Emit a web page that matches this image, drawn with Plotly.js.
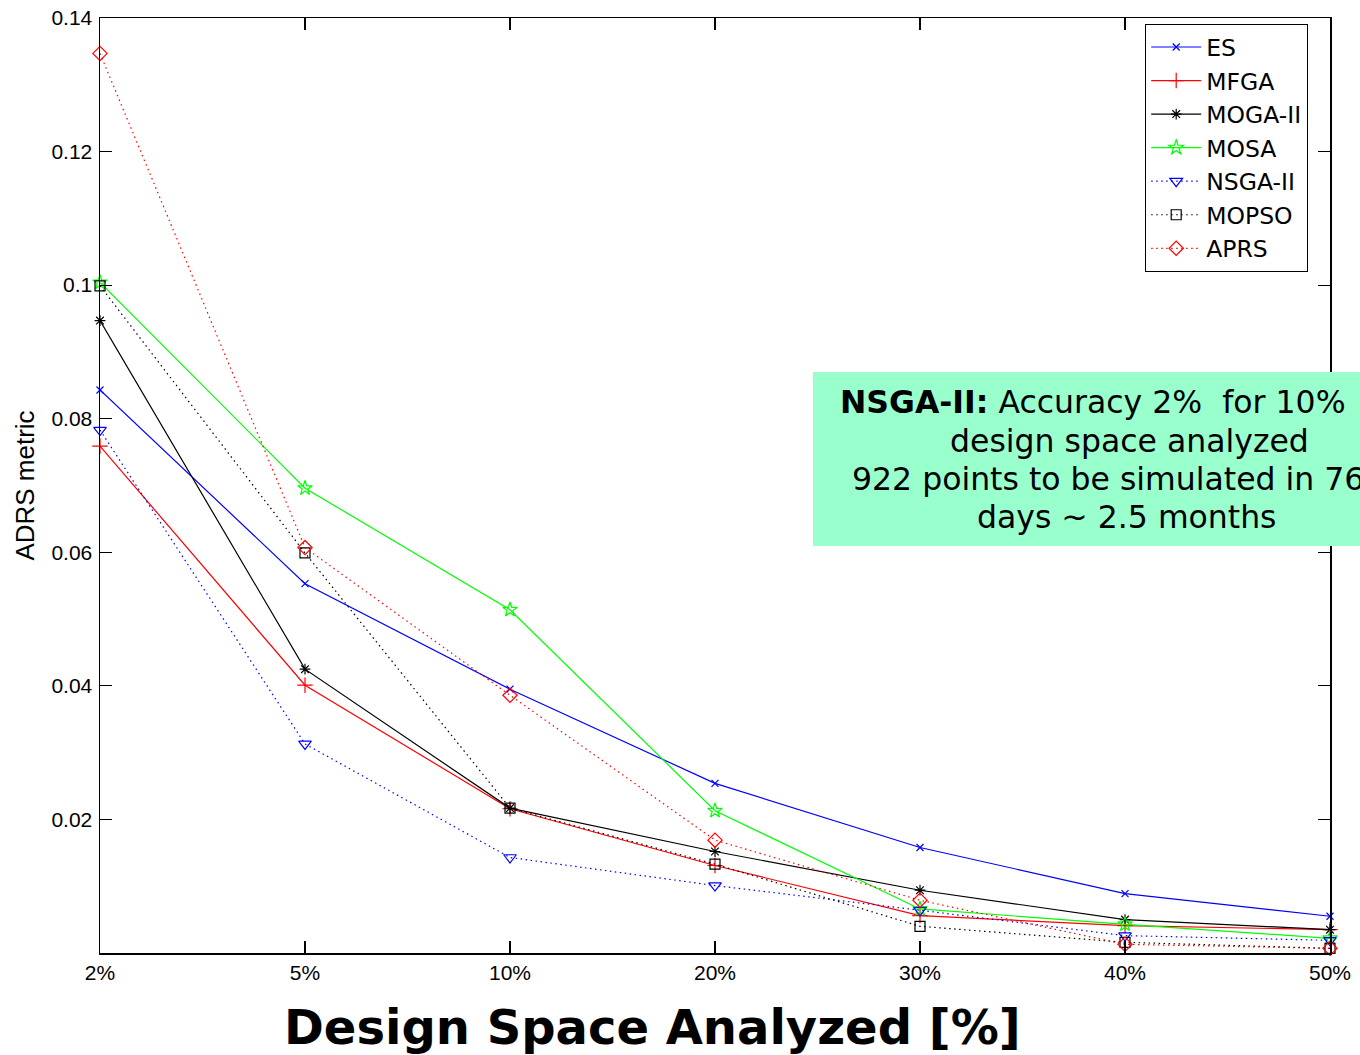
<!DOCTYPE html>
<html>
<head>
<meta charset="utf-8">
<script src="https://cdn.plot.ly/plotly-3.0.1.min.js"></script>
<style>
  html, body { margin: 0; padding: 0; background: #ffffff; }
  #chart { width: 1360px; height: 1055px; }
</style>
</head>
<body>
<div id="chart"></div>
<script>
// ---- data ----
const categories = ["2%", "5%", "10%", "20%", "30%", "40%", "50%"];
const seriesNames = ["ES", "MFGA", "MOGA-II", "MOSA", "NSGA-II", "MOPSO", "APRS"];
const es     = [0.0843, 0.0553, 0.0395, 0.0254, 0.0158, 0.0089, 0.0055];
const mfga   = [0.0759, 0.0401, 0.0216, 0.0131, 0.0056, 0.0041, 0.0035];
const mogaII = [0.0947, 0.0425, 0.0217, 0.0152, 0.0094, 0.0050, 0.0035];
const mosa   = [0.1004, 0.0696, 0.0514, 0.0213, 0.0066, 0.0043, 0.0022];
const nsgaII = [0.0783, 0.0313, 0.0143, 0.0101, 0.0064, 0.0026, 0.0019];
const mopso  = [0.0999, 0.0599, 0.0217, 0.0133, 0.0040, 0.0016, 0.0007];
const aprs   = [0.1347, 0.0607, 0.0386, 0.0169, 0.0079, 0.0013, 0.0007];
const yTickVals = [0.02, 0.04, 0.06, 0.08, 0.1, 0.12, 0.14];
const yTickText = ["0.02", "0.04", "0.06", "0.08", "0.1", "0.12", "0.14"];
const noteLines = [
  "<b>NSGA-II:</b> Accuracy 2%  for 10%",
  "design space analyzed",
  "922 points to be simulated in 76",
  "days ~ 2.5 months"
];
const xTitle = "Design Space Analyzed [%]";
const yTitle = "ADRS metric";

// ---- styles ----
const values = [es, mfga, mogaII, mosa, nsgaII, mopso, aprs];
const DOT = "1.5px,3.5px";
const styles = [
  {color: "#0000ff", dash: "solid", symbol: "x-thin-open", size: 7},
  {color: "#ff0000", dash: "solid", symbol: "cross-thin-open", size: 11},
  {color: "#000000", dash: "solid", symbol: "asterisk-open", size: 9},
  {color: "#00ff00", dash: "solid", symbol: "star-open", size: 11},
  {color: "#0000ff", dash: DOT, symbol: "triangle-down-open", size: 11},
  {color: "#000000", dash: DOT, symbol: "square-open", size: 10},
  {color: "#ff0000", dash: DOT, symbol: "diamond-open", size: 11}
];

const traces = values.map((v, i) => ({
  type: "scatter",
  mode: "lines+markers",
  name: seriesNames[i],
  x: categories,
  y: v,
  line: {color: styles[i].color, width: 1.2, dash: styles[i].dash},
  marker: {symbol: styles[i].symbol, size: styles[i].size, color: styles[i].color,
           line: {color: styles[i].color, width: 1.2}},
  cliponaxis: false
}));

// pixel -> paper helpers (plot area: x 100..1330, y 18..953)
const px = v => (v - 100) / 1230;
const py = v => (953 - v) / 935;

const noteX = [838, 948, 850, 975];
const noteY = [402, 441, 479, 517];
const noteFont = {family: "DejaVu Sans, Verdana, sans-serif", size: 31.5, color: "#000000"};

const annotations = noteLines.map((t, i) => ({
  xref: "paper", yref: "paper",
  x: px(noteX[i]), y: py(noteY[i]),
  xanchor: "left", yanchor: "middle",
  showarrow: false,
  font: noteFont,
  text: t
}));
annotations.push({
  xref: "paper", yref: "paper",
  x: px(652), y: py(1027),
  xanchor: "center", yanchor: "middle",
  showarrow: false,
  font: {family: "DejaVu Sans, Verdana, sans-serif", size: 48, color: "#000000"},
  text: "<b>" + xTitle + "</b>"
});

const tickFont = {family: "Liberation Sans, Arial, sans-serif", size: 21, color: "#000000"};

const layout = {
  width: 1360,
  height: 1055,
  paper_bgcolor: "#ffffff",
  plot_bgcolor: "#ffffff",
  margin: {l: 100, r: 30, t: 18, b: 102},
  showlegend: true,
  font: {family: "Liberation Sans, Arial, sans-serif", color: "#000000"},
  xaxis: {
    type: "category",
    range: [0, 6],
    showgrid: false,
    zeroline: false,
    showline: true,
    linecolor: "#000000",
    linewidth: 1.5,
    mirror: "ticks",
    ticks: "inside",
    ticklen: 12,
    tickwidth: 1.2,
    tickcolor: "#000000",
    tickfont: tickFont,
    ticklabelstandoff: 0
  },
  yaxis: {
    range: [0, 0.14],
    showgrid: false,
    zeroline: false,
    showline: true,
    linecolor: "#000000",
    linewidth: 1.5,
    mirror: "ticks",
    ticks: "inside",
    ticklen: 12,
    tickwidth: 1.2,
    tickcolor: "#000000",
    tickvals: yTickVals,
    ticktext: yTickText,
    tickfont: tickFont,
    ticklabelstandoff: 2,
    title: {text: yTitle, font: {family: "Liberation Sans, Arial, sans-serif", size: 26, color: "#000000"}, standoff: 9}
  },
  legend: {
    x: px(1145),
    y: py(24),
    xanchor: "left",
    yanchor: "top",
    bgcolor: "#ffffff",
    bordercolor: "#000000",
    borderwidth: 1.2,
    font: {family: "DejaVu Sans, Liberation Sans, sans-serif", size: 23.5, color: "#000000"},
    itemwidth: 50,
    tracegroupgap: 0
  },
  shapes: [{
    type: "rect", xref: "paper", yref: "paper",
    x0: px(813), x1: px(1443), y0: py(546), y1: py(372),
    fillcolor: "#99ffcc", line: {width: 0}, layer: "above"
  }],
  annotations: annotations
};

Plotly.newPlot("chart", traces, layout, {displayModeBar: false, staticPlot: true});
</script>
</body>
</html>
